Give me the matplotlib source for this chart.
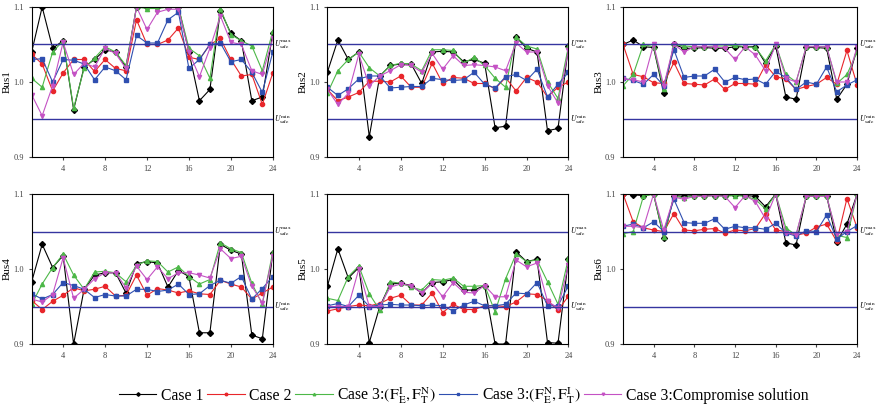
import matplotlib
matplotlib.use('Agg')
from matplotlib import pyplot as plt
import numpy as np

plt.rcParams['font.family'] = ['Liberation Serif', 'DejaVu Serif']
plt.rcParams['mathtext.fontset'] = 'stix'

hours = np.arange(1, 25)
u_max = 1.05
u_min = 0.95

# bus voltages (p.u.) per hour
bus1_case1 = [1.04, 1.10, 1.045, 1.055, 0.963, 1.02, 1.03, 1.043, 1.04, 1.02, 1.10, 1.10,
              1.10, 1.10, 1.10, 1.04, 0.975, 0.99, 1.095, 1.065, 1.055, 0.975, 0.98, 1.065]
bus1_case2 = [1.037, 1.024, 0.988, 1.012, 1.03, 1.03, 1.014, 1.03, 1.018, 1.015, 1.083, 1.05,
              1.05, 1.056, 1.072, 1.033, 1.03, 1.05, 1.058, 1.03, 1.008, 1.01, 0.97, 1.012]
bus1_c3a = [1.005, 0.993, 1.04, 1.055, 0.965, 1.018, 1.032, 1.047, 1.04, 1.022, 1.10, 1.098,
            1.098, 1.10, 1.10, 1.045, 1.035, 1.005, 1.098, 1.063, 1.055, 1.048, 1.015, 1.068]
bus1_c3b = [1.03, 1.031, 1.0, 1.03, 1.029, 1.024, 1.003, 1.02, 1.015, 1.003, 1.062, 1.052,
            1.052, 1.083, 1.093, 1.018, 1.03, 1.05, 1.052, 1.027, 1.03, 1.013, 0.986, 1.04]
bus1_comp = [0.983, 0.955, 0.995, 1.053, 1.01, 1.025, 1.02, 1.045, 1.038, 1.018, 1.10, 1.07,
             1.093, 1.097, 1.097, 1.04, 1.007, 1.045, 1.088, 1.053, 1.05, 1.015, 1.01, 1.058]

bus2_case1 = [1.013, 1.056, 1.03, 1.04, 0.927, 1.008, 1.022, 1.024, 1.024, 0.998, 1.04, 1.041,
              1.04, 1.027, 1.03, 1.025, 0.939, 0.941, 1.06, 1.045, 1.04, 0.935, 0.938, 1.048]
bus2_case2 = [0.99, 0.975, 0.98, 0.986, 1.001, 1.001, 1.0, 1.008, 0.993, 0.993, 1.025, 0.998,
              1.006, 1.005, 0.998, 0.998, 0.991, 1.006, 0.988, 1.006, 1.0, 0.98, 0.993, 1.0]
bus2_c3a = [0.985, 1.015, 1.03, 1.04, 1.019, 1.008, 1.022, 1.025, 1.024, 1.015, 1.043, 1.043,
            1.042, 1.025, 1.033, 1.022, 1.005, 0.993, 1.06, 1.048, 1.044, 1.0, 0.978, 1.048]
bus2_c3b = [0.993, 0.982, 0.991, 1.004, 1.008, 1.008, 0.992, 0.993, 0.994, 0.994, 1.005, 1.003,
            1.002, 1.003, 1.013, 0.997, 0.992, 1.007, 1.01, 1.002, 1.017, 0.98, 0.997, 1.013]
bus2_comp = [0.99, 0.97, 0.985, 1.037, 0.995, 1.008, 1.015, 1.023, 1.022, 1.013, 1.038, 1.017,
             1.035, 1.022, 1.023, 1.022, 1.02, 1.015, 1.052, 1.04, 1.04, 0.995, 0.972, 1.042]

bus3_case1 = [1.05, 1.056, 1.047, 1.046, 0.985, 1.05, 1.045, 1.045, 1.046, 1.045, 1.045, 1.047,
              1.047, 1.047, 1.025, 1.048, 0.98, 0.977, 1.046, 1.046, 1.045, 0.977, 0.997, 1.045]
bus3_case2 = [1.05, 1.01, 1.007, 0.999, 0.998, 1.026, 0.998, 0.997, 0.996, 1.004, 0.99, 0.998,
              0.998, 0.997, 1.023, 1.007, 1.004, 0.99, 0.994, 0.997, 1.006, 0.997, 1.042, 0.996]
bus3_c3a = [0.995, 1.01, 1.05, 1.047, 0.99, 1.05, 1.048, 1.047, 1.047, 1.048, 1.048, 1.049,
            1.047, 1.046, 1.028, 1.05, 1.01, 1.0, 1.047, 1.047, 1.047, 0.998, 1.01, 1.04]
bus3_c3b = [1.005, 1.002, 0.997, 1.01, 0.995, 1.043, 1.006, 1.008, 1.008, 1.017, 1.0, 1.006,
            1.003, 1.004, 0.997, 1.014, 1.006, 0.99, 1.0, 0.997, 1.02, 0.987, 0.996, 1.003]
bus3_comp = [1.004, 1.003, 1.0, 1.05, 0.995, 1.05, 1.04, 1.047, 1.047, 1.047, 1.045, 1.03,
             1.047, 1.036, 1.015, 1.05, 1.005, 1.0, 1.047, 1.047, 1.047, 1.0, 1.0, 1.047]

bus4_case1 = [0.983, 1.033, 1.002, 1.018, 0.9, 0.973, 0.992, 0.995, 0.995, 0.968, 1.007, 1.01,
              1.008, 0.976, 0.998, 0.99, 0.915, 0.915, 1.033, 1.025, 1.02, 0.912, 0.907, 1.022]
bus4_case2 = [0.958, 0.946, 0.957, 0.965, 0.975, 0.971, 0.973, 0.977, 0.964, 0.965, 0.992, 0.965,
              0.974, 0.972, 0.968, 0.971, 0.967, 0.966, 0.985, 0.98, 0.976, 0.96, 0.968, 0.976]
bus4_c3a = [0.953, 0.98, 1.002, 1.02, 0.992, 0.973, 0.996, 0.997, 0.995, 0.983, 1.005, 1.011,
            1.01, 0.996, 1.003, 0.99, 0.98, 0.986, 1.035, 1.027, 1.022, 0.981, 0.953, 1.023]
bus4_c3b = [0.967, 0.96, 0.966, 0.982, 0.978, 0.973, 0.962, 0.966, 0.964, 0.964, 0.973, 0.973,
            0.97, 0.972, 0.98, 0.966, 0.967, 0.978, 0.985, 0.981, 0.99, 0.96, 0.974, 0.99]
bus4_comp = [0.96, 0.956, 0.966, 1.015, 0.961, 0.973, 0.987, 0.995, 0.995, 0.975, 1.004, 0.986,
             1.003, 0.987, 0.995, 0.995, 0.992, 0.988, 1.027, 1.014, 1.017, 0.977, 0.955, 1.018]

bus5_case1 = [0.977, 1.027, 0.988, 1.002, 0.902, 0.95, 0.98, 0.981, 0.978, 0.968, 0.982, 0.983,
              0.986, 0.972, 0.972, 0.978, 0.9, 0.9, 1.023, 1.01, 1.013, 0.902, 0.901, 1.013]
bus5_case2 = [0.944, 0.947, 0.95, 0.952, 0.951, 0.954, 0.961, 0.965, 0.952, 0.952, 0.968, 0.942,
              0.953, 0.946, 0.946, 0.951, 0.951, 0.95, 0.956, 0.967, 0.966, 0.958, 0.945, 0.964]
bus5_c3a = [0.961, 0.958, 0.99, 1.004, 0.967, 0.945, 0.983, 0.981, 0.976, 0.972, 0.986, 0.985,
            0.988, 0.977, 0.977, 0.978, 0.943, 0.987, 1.02, 1.01, 1.012, 0.983, 0.953, 1.015]
bus5_c3b = [0.951, 0.954, 0.95, 0.965, 0.95, 0.952, 0.953, 0.952, 0.952, 0.951, 0.952, 0.951,
            0.944, 0.952, 0.957, 0.951, 0.951, 0.953, 0.968, 0.967, 0.982, 0.951, 0.951, 0.978]
bus5_comp = [0.95, 0.95, 0.95, 1.0, 0.95, 0.95, 0.976, 0.98, 0.978, 0.968, 0.981, 0.963,
             0.982, 0.969, 0.968, 0.978, 0.963, 0.963, 1.012, 1.003, 1.008, 0.957, 0.948, 1.005]

bus6_case1 = [1.1, 1.099, 1.098, 1.1, 1.041, 1.098, 1.097, 1.098, 1.098, 1.098, 1.098, 1.099,
              1.098, 1.097, 1.083, 1.1, 1.035, 1.032, 1.097, 1.098, 1.098, 1.036, 1.06, 1.1]
bus6_case2 = [1.1, 1.063, 1.055, 1.052, 1.05, 1.074, 1.052, 1.051, 1.053, 1.054, 1.048, 1.052,
              1.051, 1.054, 1.074, 1.052, 1.05, 1.045, 1.048, 1.056, 1.06, 1.037, 1.094, 1.055]
bus6_c3a = [1.047, 1.05, 1.097, 1.1, 1.043, 1.097, 1.095, 1.098, 1.097, 1.098, 1.097, 1.098,
            1.097, 1.093, 1.08, 1.1, 1.055, 1.045, 1.097, 1.098, 1.098, 1.045, 1.042, 1.1]
bus6_c3b = [1.057, 1.06, 1.055, 1.063, 1.05, 1.093, 1.062, 1.061, 1.061, 1.067, 1.053, 1.057,
            1.055, 1.055, 1.053, 1.061, 1.048, 1.044, 1.051, 1.05, 1.072, 1.04, 1.05, 1.058]
bus6_comp = [1.057, 1.057, 1.055, 1.1, 1.052, 1.096, 1.093, 1.097, 1.097, 1.098, 1.097, 1.082,
             1.098, 1.09, 1.067, 1.1, 1.048, 1.046, 1.097, 1.097, 1.097, 1.047, 1.05, 1.1]

bus_names = ['Bus1', 'Bus2', 'Bus3', 'Bus4', 'Bus5', 'Bus6']
bus_data = [
    [bus1_case1, bus1_case2, bus1_c3a, bus1_c3b, bus1_comp],
    [bus2_case1, bus2_case2, bus2_c3a, bus2_c3b, bus2_comp],
    [bus3_case1, bus3_case2, bus3_c3a, bus3_c3b, bus3_comp],
    [bus4_case1, bus4_case2, bus4_c3a, bus4_c3b, bus4_comp],
    [bus5_case1, bus5_case2, bus5_c3a, bus5_c3b, bus5_comp],
    [bus6_case1, bus6_case2, bus6_c3a, bus6_c3b, bus6_comp],
]
series_labels = ['Case 1', 'Case 2',
                 r'Case 3:$(\mathrm{F_E^I,F_T^N})$',
                 r'Case 3:$(\mathrm{F_E^N,F_T^I})$',
                 'Case 3:Compromise solution']
colors = ['black', '#e8262b', '#4db848', '#2f4fb0', '#c452c4']
markers = ['D', 'o', '^', 's', 'v']
limit_color = '#3535a0'

fig = plt.figure(figsize=(8.8, 4.12), dpi=100)
lefts = [0.036, 0.372, 0.708]
widths = [0.274, 0.274, 0.266]
bottoms = [0.619, 0.165]
h = 0.364

handles = []
for k, name in enumerate(bus_names):
    col = k % 3
    ax = fig.add_axes([lefts[col], bottoms[k // 3], widths[col], h])
    for s in range(5):
        ln, = ax.plot(hours, bus_data[k][s], color=colors[s], marker=markers[s],
                      markersize=3, linewidth=0.8)
        if k == 0:
            handles.append(ln)
    ax.axhline(u_max, color=limit_color, linewidth=1.0)
    ax.axhline(u_min, color=limit_color, linewidth=1.0)
    ax.text(24.15, u_max, r'$U_{\rm safe}^{\rm max}$', fontsize=5.5, va='center', ha='left',
            clip_on=False)
    ax.text(24.15, u_min, r'$U_{\rm safe}^{\rm min}$', fontsize=5.5, va='center', ha='left',
            clip_on=False)
    ax.set_xlim(1, 24)
    ax.set_ylim(0.9, 1.1)
    ax.set_xticks([4, 8, 12, 16, 20, 24])
    ax.set_yticks([0.9, 1.0, 1.1])
    ax.tick_params(labelsize=6, length=2, direction='out', colors='#444444')
    ax.set_ylabel(name, fontsize=8, labelpad=1)
    for sp in ax.spines.values():
        sp.set_linewidth(0.8)

fig.legend(handles, series_labels, loc='center', bbox_to_anchor=(0.527, 0.04), ncol=5,
           frameon=False, fontsize=11.3, handlelength=2.4, handletextpad=0.3,
           columnspacing=0.2, markerscale=0.6)

fig.savefig('out.png', dpi=100)
